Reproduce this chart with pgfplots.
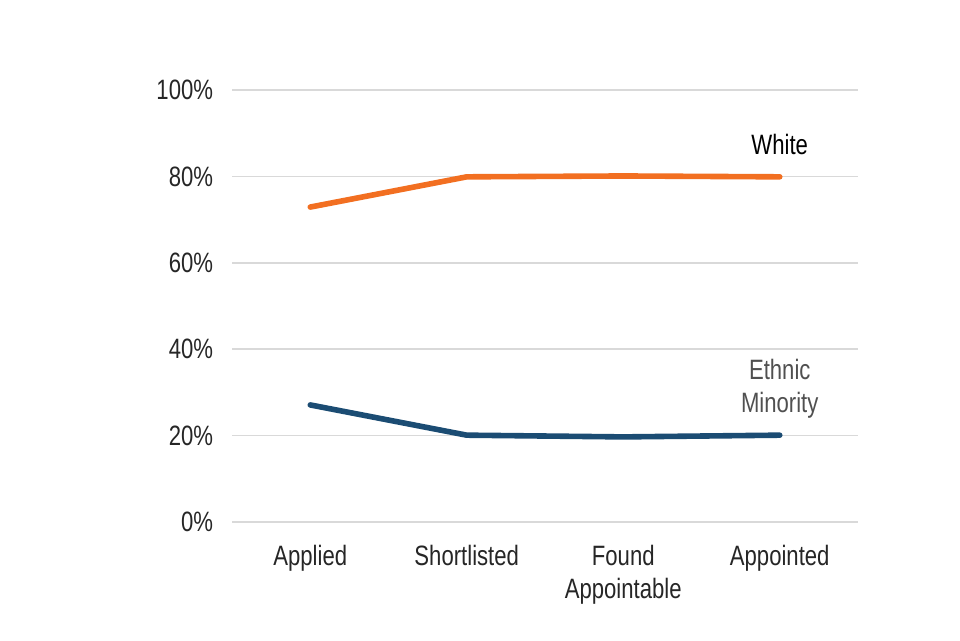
\documentclass[border=0pt]{standalone}
\usepackage{fontspec}
\setmainfont[FakeStretch=0.79]{Liberation Sans}
\usepackage{pgfplots}
\pgfplotsset{compat=1.18}

\definecolor{whiteline}{HTML}{F26F21}
\definecolor{emline}{HTML}{1B4C73}
\definecolor{gridgrey}{HTML}{D9D9D9}
\definecolor{ticktext}{HTML}{262626}
\definecolor{emtext}{HTML}{505050}

\begin{document}
\fontsize{21}{25}\selectfont
\begin{tikzpicture}
% page = 960x640 px at 0.75pt/px, axis box from (232,522) to (858,90) px
\path[use as bounding box] (-174pt,-88.5pt) rectangle (546pt,391.5pt);
\begin{axis}[
    at={(0pt,0pt)}, anchor=south west,
    scale only axis,
    width=469.5pt, height=324pt,
    xmin=-0.5, xmax=3.5,
    ymin=0, ymax=100,
    xtick={0,1,2,3},
    xticklabels={Applied,Shortlisted,Found\\Appointable,Appointed},
    xticklabel style={align=center, text=ticktext, font=\fontsize{21}{25}\selectfont, yshift=-10pt},
    ytick={0,20,40,60,80,100},
    yticklabel={\pgfmathprintnumber{\tick}\%},
    yticklabel style={text=ticktext, font=\fontsize{21}{25}\selectfont, xshift=-7pt},
    /pgf/number format/assume math mode=true,
    major tick length=0pt,
    axis line style={draw=none},
    ymajorgrids,
    grid style={gridgrey, line width=1.1pt},
    clip=false,
]
\addplot[whiteline, line width=4.2pt, line cap=round] coordinates {
    (0,72.9) (1,79.9) (2,80.1) (3,79.9)
};
\addplot[emline, line width=4.2pt, line cap=round] coordinates {
    (0,27.1) (1,20.1) (2,19.7) (3,20.1)
};
\node[text=black, font=\fontsize{21}{25}\selectfont] at (axis cs:3,87.3) {White};
\node[text=emtext, align=center, font=\fontsize{21}{25}\selectfont] at (axis cs:3,30.9) {Ethnic\\Minority};
\end{axis}
\end{tikzpicture}
\end{document}
